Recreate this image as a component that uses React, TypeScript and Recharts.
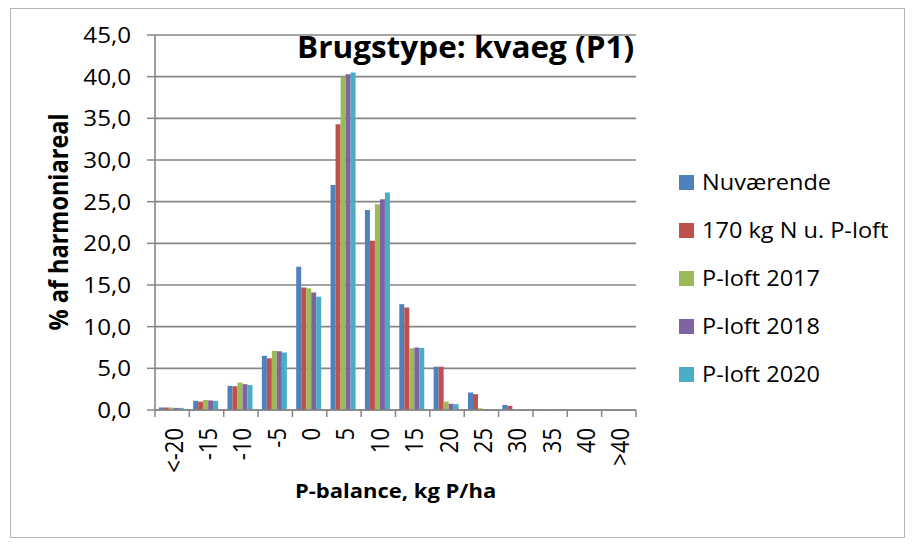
import React from 'react';
import { BarChart, Bar, XAxis, YAxis, CartesianGrid, Legend } from 'recharts';

const categories = ['<-20', '-15', '-10', '-5', '0', '5', '10', '15', '20', '25', '30', '35', '40', '>40'];
const nuvaerende = [0.3, 1.1, 2.9, 6.5, 17.2, 27.0, 24.0, 12.7, 5.2, 2.1, 0.6, 0.05, 0, 0];
const kg170 = [0.3, 1.0, 2.85, 6.2, 14.7, 34.3, 20.3, 12.3, 5.2, 1.9, 0.5, 0.1, 0, 0];
const ploft2017 = [0.3, 1.2, 3.3, 7.1, 14.6, 40.0, 24.7, 7.4, 1.0, 0.2, 0.05, 0.1, 0, 0];
const ploft2018 = [0.25, 1.15, 3.1, 7.05, 14.1, 40.3, 25.3, 7.5, 0.75, 0.1, 0.05, 0.05, 0, 0];
const ploft2020 = [0.25, 1.1, 3.0, 6.9, 13.6, 40.5, 26.1, 7.45, 0.7, 0.1, 0.05, 0.05, 0, 0];
const yTicks = [0, 5, 10, 15, 20, 25, 30, 35, 40, 45];

const series = [
  { key: 'nuv', name: 'Nuværende', color: '#4F81BD', values: nuvaerende },
  { key: 'kg170', name: '170 kg N u. P-loft', color: '#C0504D', values: kg170 },
  { key: 'p2017', name: 'P-loft 2017', color: '#9BBB59', values: ploft2017 },
  { key: 'p2018', name: 'P-loft 2018', color: '#8064A2', values: ploft2018 },
  { key: 'p2020', name: 'P-loft 2020', color: '#4BACC6', values: ploft2020 },
];

const data = categories.map((c, i) => {
  const row: any = { cat: c };
  series.forEach((s) => (row[s.key] = s.values[i]));
  return row;
});

const FONT = '"Open Sans", sans-serif';
const GRID = '#868686';
const PLOT_LEFT = 155;
const PLOT_RIGHT = 636;
const BAND = (PLOT_RIGHT - PLOT_LEFT) / categories.length;

// the original picture is a bit stretched sideways, so text gets a small scaleX
const XTick = (props: any) => {
  const { x, y, payload, index } = props;
  return (
    <g>
      <line x1={x - BAND / 2} y1={y} x2={x - BAND / 2} y2={y + 7} stroke={GRID} strokeWidth={1.5} />
      {index === categories.length - 1 && (
        <line x1={x + BAND / 2} y1={y} x2={x + BAND / 2} y2={y + 7} stroke={GRID} strokeWidth={1.5} />
      )}
      <text
        x={0}
        y={0}
        transform={`translate(${x + 1},${y + 18}) scale(1.12,1) rotate(-90)`}
        textAnchor="end"
        dominantBaseline="central"
        fontSize={22}
        fontFamily={FONT}
        fill="#000"
      >
        {payload.value}
      </text>
    </g>
  );
};

const YTick = (props: any) => {
  const { x, y, payload } = props;
  return (
    <text
      x={0}
      y={0}
      transform={`translate(${x},${y}) scale(1.15,1)`}
      textAnchor="end"
      dominantBaseline="central"
      fontSize={21}
      fontFamily={FONT}
      fill="#000"
    >
      {payload.value.toFixed(1).replace('.', ',')}
    </text>
  );
};

const YLabel = () => (
  <text
    transform="translate(57,222) scale(1.12,1) rotate(-90)"
    textAnchor="middle"
    dominantBaseline="central"
    fontSize={23.5}
    fontWeight="bold"
    fontFamily={FONT}
    fill="#000"
  >
    % af harmoniareal
  </text>
);

const LegendContent = () => (
  <div style={{ fontFamily: FONT }}>
    {series.map((s) => (
      <div key={s.key} style={{ display: 'flex', alignItems: 'center', height: 48 }}>
        <div style={{ width: 15, height: 15, background: s.color, marginRight: 8 }} />
        <span
          style={{
            fontSize: 21,
            color: '#000',
            whiteSpace: 'nowrap',
            display: 'inline-block',
            transform: 'scaleX(1.12)',
            transformOrigin: 'left center',
          }}
        >
          {s.name}
        </span>
      </div>
    ))}
  </div>
);

export default function App() {
  return (
    <div style={{ position: 'absolute', left: 0, top: 0, width: 914, height: 546, background: '#fff' }}>
      <div
        style={{
          position: 'absolute',
          left: 10,
          top: 8,
          width: 893,
          height: 528,
          border: '1px solid #b4b4b4',
        }}
      />
      <BarChart
        width={914}
        height={546}
        data={data}
        margin={{ top: 35, right: 914 - PLOT_RIGHT, left: 0, bottom: 76 }}
        barCategoryGap="11%"
        barGap={0}
      >
        <CartesianGrid vertical={false} stroke={GRID} strokeWidth={1.6} />
        <XAxis
          dataKey="cat"
          interval={0}
          height={60}
          tickLine={false}
          tickSize={0}
          tickMargin={0}
          axisLine={{ stroke: GRID, strokeWidth: 1.6 }}
          tick={<XTick />}
        />
        <YAxis
          width={PLOT_LEFT}
          domain={[0, 45]}
          ticks={yTicks}
          interval={0}
          tick={<YTick />}
          tickSize={8}
          tickMargin={16}
          tickLine={{ stroke: GRID, strokeWidth: 1.5 }}
          axisLine={{ stroke: GRID, strokeWidth: 1.6 }}
          label={<YLabel />}
        />
        <Legend
          layout="vertical"
          align="center"
          verticalAlign="middle"
          wrapperStyle={{ left: 679, top: 158, width: 230 }}
          content={<LegendContent />}
        />
        {series.map((s) => (
          <Bar key={s.key} dataKey={s.key} name={s.name} fill={s.color} isAnimationActive={false} />
        ))}
      </BarChart>
      <div
        style={{
          position: 'absolute',
          left: 297,
          top: 26,
          fontFamily: FONT,
          fontWeight: 'bold',
          fontSize: 30,
          whiteSpace: 'nowrap',
          color: '#000',
          transform: 'scaleX(1.05)',
          transformOrigin: 'left top',
        }}
      >
        Brugstype: kvaeg (P1)
      </div>
      <div
        style={{
          position: 'absolute',
          left: 0,
          width: 791,
          top: 477,
          textAlign: 'center',
          fontFamily: FONT,
          fontWeight: 'bold',
          fontSize: 20,
          color: '#000',
          transform: 'scaleX(1.1)',
          transformOrigin: '395px top',
        }}
      >
        P-balance, kg P/ha
      </div>
    </div>
  );
}
